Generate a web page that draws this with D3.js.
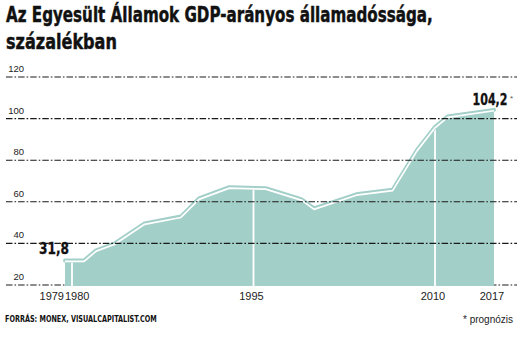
<!DOCTYPE html>
<html>
<head>
<meta charset="utf-8">
<script src="https://cdn.jsdelivr.net/npm/d3@7"></script>
<style>
  html, body { margin: 0; padding: 0; background: #fff; }
  svg { display: block; }
  .cond { font-family: "Liberation Sans Narrow", "DejaVu Sans Condensed", "Roboto", sans-serif; }
  .reg { font-family: "Liberation Sans", "Open Sans", sans-serif; }
</style>
</head>
<body>
<svg id="chart" width="525" height="338"></svg>
<script>
// ---- data ----
const titleLines = ["Az Egyesült Államok GDP-arányos államadóssága,", "százalékban"];
const years  = [1979, 1981, 1982, 1983.5, 1986, 1989, 1990.5, 1993, 1996, 1999, 2000, 2003.5, 2006.5, 2008.5, 2010, 2011.5, 2017];
const values = [31.8, 31.8, 36.7, 39.9, 49.6, 52.9, 61.6, 67.0, 66.5, 61.1, 56.8, 63.6, 65.8, 84.8, 96.0, 101.0, 104.2];
const yTicks = [20, 40, 60, 80, 100, 120];
const xTicks = [1979, 1980, 1995, 2010, 2017];
const markerYears = [1980, 1995, 2010];
const firstLabel = "31,8";
const lastLabel = "104,2";
const source = "FORRÁS: MONEX, VISUALCAPITALIST.COM";
const note = "* prognózis";

const data = years.map((yr, i) => ({ year: yr, value: values[i] }));

// ---- scales ----
const x = d3.scaleLinear().domain([1979, 1980, 2010, 2017]).range([65, 72, 435, 494]);
const y = d3.scaleLinear().domain([20, 120]).range([285, 77]);

const svg = d3.select("#chart");
const teal = "#a3cfc9";
const gridLeft = 6, gridRight = 517;

// condensed text helper: squeeze horizontally to a target width via transform
function fitText(str, px, py, width, opts) {
  const g = svg.append("g");
  const t = g.append("text").attr("class", "cond")
    .attr("x", 0).attr("y", 0)
    .attr("text-anchor", opts.anchor || "start")
    .attr("font-size", opts.size)
    .attr("font-weight", opts.weight || "bold")
    .attr("fill", opts.fill || "#111")
    .text(str);
  if (opts.stroke) t.attr("stroke", opts.fill || "#111").attr("stroke-width", opts.stroke);
  const w = t.node().getComputedTextLength();
  const s = width / w;
  g.attr("transform", `translate(${px},${py}) scale(${s},1)`);
  return t;
}

// title
fitText(titleLines[0], 6, 22, 427, { size: 22, stroke: 0.45 });
fitText(titleLines[1], 6, 48.5, 111, { size: 22, stroke: 0.45 });

// gridline helper
function grid(vals) {
  svg.append("g").selectAll("line").data(vals).join("line")
    .attr("x1", gridLeft).attr("x2", gridRight)
    .attr("y1", d => y(d)).attr("y2", d => y(d))
    .attr("stroke", "#1a1a1a")
    .attr("stroke-width", 1.1)
    .attr("stroke-dasharray", "6.5,2,1.6,2");
}
grid(yTicks.filter(t => t === yTicks[0]));

// area
const area = d3.area().x(d => x(d.year)).y0(y(20) + 1).y1(d => y(d.value));
svg.append("path").datum(data).attr("d", area).attr("fill", teal);

// clip for vertical markers
svg.append("clipPath").attr("id", "areaClip")
  .append("path").datum(data)
  .attr("d", d3.area().x(d => x(d.year)).y0(y(20) + 1).y1(d => y(d.value) + 1.5));

svg.append("g").attr("clip-path", "url(#areaClip)")
  .selectAll("line").data(markerYears).join("line")
  .attr("x1", d => x(d)).attr("x2", d => x(d))
  .attr("y1", y(120)).attr("y2", y(20) + 2)
  .attr("stroke", "#fff").attr("stroke-width", 1.8);

// top line: teal band + white inner line
const line = d3.line().x(d => x(d.year)).y(d => y(d.value));
svg.append("path").datum(data).attr("d", line)
  .attr("fill", "none").attr("stroke", teal).attr("stroke-width", 4)
  .attr("stroke-linecap", "round").attr("stroke-linejoin", "round");
svg.append("path").datum(data).attr("d", line)
  .attr("transform", "translate(0,0.9)")
  .attr("fill", "none").attr("stroke", "#fff").attr("stroke-width", 1.7)
  .attr("stroke-linejoin", "round");

// gridlines above area
grid(yTicks.filter(t => t !== yTicks[0]));

// y tick labels
svg.append("g").selectAll("text").data(yTicks).join("text")
  .attr("class", "reg")
  .attr("x", 24).attr("y", d => y(d) - 5)
  .attr("text-anchor", "end")
  .attr("font-size", 9.5).attr("fill", "#222")
  .text(d => d);

// x tick labels
svg.append("g").selectAll("text").data(xTicks).join("text")
  .attr("class", "reg")
  .attr("x", d => d === 1979 ? x(d) - 1 : d === 1980 ? x(d) - 7 : x(d) - 2)
  .attr("y", 300)
  .attr("text-anchor", d => d === 1979 ? "end" : d === 1980 ? "start" : "middle")
  .attr("font-size", 11).attr("fill", "#222")
  .text(d => d);

// value annotations
const first = data[0], last = data[data.length - 1];
fitText(firstLabel, x(first.year) + 4, y(first.value) - 6.5, 30, { size: 16, anchor: "end", stroke: 0.3 });
fitText(lastLabel, x(last.year) + 13.5, y(last.value) - 5, 35, { size: 16, anchor: "end", stroke: 0.3 });
svg.append("text").attr("class", "reg")
  .attr("x", x(last.year) + 16).attr("y", y(last.value) - 9)
  .attr("font-size", 8).attr("fill", "#555")
  .text("*");

// footer
fitText(source, 5, 322, 152, { size: 9 });
svg.append("text").attr("class", "reg")
  .attr("x", 513).attr("y", 323)
  .attr("text-anchor", "end")
  .attr("font-size", 10).attr("fill", "#222")
  .text(note);
</script>
</body>
</html>
